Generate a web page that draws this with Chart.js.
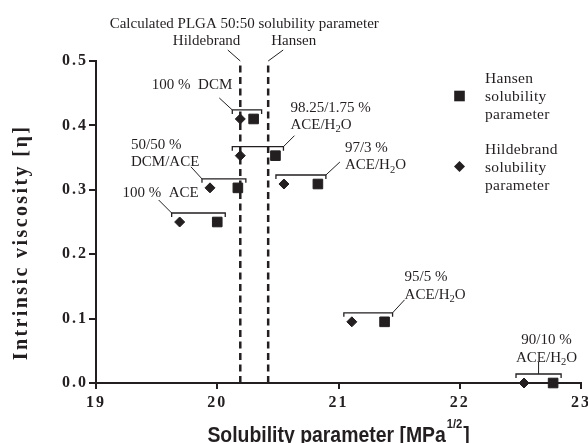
<!DOCTYPE html>
<html>
<head>
<meta charset="utf-8">
<script src="https://cdn.jsdelivr.net/npm/chart.js@4.4.1/dist/chart.umd.min.js"></script>
<style>
  html, body { margin: 0; padding: 0; background: #fff; overflow: hidden; }
  #wrap { width: 600px; height: 443px; }
</style>
</head>
<body>
<div id="wrap"><canvas id="chart" width="600" height="443"></canvas></div>
<script>
// ===== Data =====
const solventLabels = [
  ['100 %  ACE'],
  ['50/50 %', 'DCM/ACE'],
  ['100 %  DCM'],
  ['98.25/1.75 %', 'ACE/H₂O'],
  ['97/3 %', 'ACE/H₂O'],
  ['95/5 %', 'ACE/H₂O'],
  ['90/10 %', 'ACE/H₂O'],
];
const hildebrandValues = [19.69, 19.94, 20.19, 20.19, 20.55, 21.11, 22.53];
const hansenValues     = [20.00, 20.17, 20.30, 20.48, 20.83, 21.38, 22.77];
const viscosityValues  = [0.250, 0.303, 0.410, 0.353, 0.309, 0.095, 0.000];

const plgaNames  = ['Hildebrand', 'Hansen'];
const plgaValues = [20.19, 20.42];

const xTicks = [19, 20, 21, 22, 23];
const yTicks = [0, 0.1, 0.2, 0.3, 0.4, 0.5];

// ===== Style =====
const INK = '#231f20';
const SERIF = '"Liberation Serif", "Times New Roman", serif';
const SANS = '"Liberation Sans", Arial, sans-serif';

// where each solvent label sits, relative to its bracket (pixels)
const LABEL_LAYOUT = [
  { from: 'left',   lead: [-13, -13], align: 'center', tx: 2,   ty: [-3] },
  { from: 'left',   lead: [-11, -12], align: 'left',   tx: -60, ty: [-18, -1] },
  { from: 'left',   lead: [-13, -12], align: 'right',  tx: 13,  ty: [-8.5] },
  { from: 'right',  lead: [11, -11],  align: 'left',   tx: -4,  ty: [-24, -7] },
  { from: 'right',  lead: [14, -13],  align: 'left',   tx: 5,   ty: [-10, 7] },
  { from: 'right',  lead: [12, -13],  align: 'left',   tx: 0,   ty: [-19, -1] },
  { from: 'center', lead: [0, -12],   align: 'center', tx: 8,   ty: [-18, -0.5] },
];

// text with a subscript 2 (H₂O)
function drawRich(ctx, text, x, y, align, size) {
  const parts = text.split('₂');
  const big = `${size}px ${SERIF}`;
  const small = `${size * 0.7}px ${SERIF}`;
  ctx.font = big;
  const widths = parts.map((p) => ctx.measureText(p).width);
  ctx.font = small;
  const sw = ctx.measureText('2').width;
  const total = widths.reduce((a, b) => a + b, 0) + sw * (parts.length - 1);
  let cx = align === 'left' ? x : align === 'right' ? x - total : x - total / 2;
  ctx.textAlign = 'left';
  ctx.textBaseline = 'alphabetic';
  parts.forEach((p, i) => {
    ctx.font = big;
    ctx.fillText(p, cx, y);
    cx += widths[i];
    if (i < parts.length - 1) {
      ctx.font = small;
      ctx.fillText('2', cx, y + 3.5);
      cx += sw;
    }
  });
}

function line(ctx, pts, width) {
  ctx.beginPath();
  ctx.lineWidth = width;
  pts.forEach(([x, y], i) => (i ? ctx.lineTo(x, y) : ctx.moveTo(x, y)));
  ctx.stroke();
}

// ===== Annotation plugin =====
const annotate = {
  id: 'annotate',
  beforeDraw(chart) { chart.ctx.letterSpacing = '2px'; },
  beforeDatasetsDraw(chart) { chart.ctx.letterSpacing = '0px'; },
  afterDraw(chart) {
    const { ctx, chartArea, scales: { x, y } } = chart;
    ctx.save();
    ctx.letterSpacing = '0px';
    ctx.strokeStyle = INK;
    ctx.fillStyle = INK;
    ctx.lineCap = 'butt';

    // brackets + solvent labels
    solventLabels.forEach((lines, i) => {
      const a = x.getPixelForValue(Math.min(hildebrandValues[i], hansenValues[i]));
      const b = x.getPixelForValue(Math.max(hildebrandValues[i], hansenValues[i]));
      const py = y.getPixelForValue(viscosityValues[i]);
      const xl = a - 8, xr = b + 8, yb = py - 9;
      line(ctx, [[xl, yb + 4], [xl, yb], [xr, yb], [xr, yb + 4]], 1.3);

      const L = LABEL_LAYOUT[i];
      const sx = L.from === 'left' ? xl : L.from === 'right' ? xr : (xl + xr) / 2;
      const ex = sx + L.lead[0], ey = yb + L.lead[1];
      line(ctx, [[sx, yb], [ex, ey]], 1);
      lines.forEach((t, k) => drawRich(ctx, t, ex + L.tx, ey + L.ty[k], L.align, 15));
    });

    // PLGA reference line captions
    const hx = x.getPixelForValue(plgaValues[0]);
    const gx = x.getPixelForValue(plgaValues[1]);
    const top = chartArea.top;
    line(ctx, [[hx, top], [hx - 12.5, top - 11]], 1);
    line(ctx, [[gx, top], [gx + 15, top - 11]], 1);
    drawRich(ctx, plgaNames[0], hx, top - 16, 'right', 15);
    drawRich(ctx, plgaNames[1], gx + 3, top - 16, 'left', 15);
    drawRich(ctx, 'Calculated PLGA 50:50 solubility parameter', (hx + gx) / 2 - 10, top - 33.5, 'center', 15);

    // legend
    const lx = 459.5;
    ctx.fillRect(lx - 5.3, 96 - 5.3, 10.6, 10.6);
    ctx.beginPath();
    ctx.moveTo(lx - 5.5, 166.5); ctx.lineTo(lx, 161); ctx.lineTo(lx + 5.5, 166.5); ctx.lineTo(lx, 172);
    ctx.closePath(); ctx.fill();
    ctx.letterSpacing = '0.3px';
    ['Hansen', 'solubility', 'parameter'].forEach((t, k) => drawRich(ctx, t, 485, 96 + 5 + (k - 1) * 18, 'left', 15.5));
    ['Hildebrand', 'solubility', 'parameter'].forEach((t, k) => drawRich(ctx, t, 485, 166.5 + 5 + (k - 1) * 18, 'left', 15.5));

    // y title
    ctx.save();
    ctx.letterSpacing = '2.4px';
    ctx.font = `bold 20px ${SERIF}`;
    ctx.textAlign = 'center';
    ctx.textBaseline = 'alphabetic';
    ctx.translate(27.4, 242.5);
    ctx.rotate(-Math.PI / 2);
    ctx.fillText('Intrinsic viscosity [η]', 0, 0);
    ctx.restore();

    // x title with superscript
    ctx.save();
    ctx.letterSpacing = '0px';
    const sxs = 0.863;
    const main = 'Solubility parameter [MPa';
    ctx.font = `bold 22.5px ${SANS}`;
    const w1 = ctx.measureText(main).width;
    const w3 = ctx.measureText(']').width;
    ctx.font = `bold 13px ${SANS}`;
    const w2 = ctx.measureText('1/2').width;
    const total = (w1 + 1 + w2 + 1 + w3) * sxs;
    ctx.translate((chartArea.left + chartArea.right) / 2 - total / 2, 441.5);
    ctx.scale(sxs, 1);
    ctx.textAlign = 'left';
    ctx.textBaseline = 'alphabetic';
    ctx.font = `bold 22.5px ${SANS}`;
    ctx.fillText(main, 0, 0);
    ctx.fillText(']', w1 + 1 + w2 + 1, 0);
    ctx.font = `bold 13px ${SANS}`;
    ctx.fillText('1/2', w1 + 1, -14);
    ctx.restore();

    ctx.restore();
  },
};

// ===== Chart =====
const tickFont = { family: SERIF, size: 16, weight: 'bold' };

const refLines = plgaValues.map((v) => ({
  type: 'line',
  data: [{ x: v, y: 0 }, { x: v, y: 0.5 }],
  borderColor: INK,
  borderWidth: 2.5,
  borderDash: [7, 4.5],
  pointRadius: 0,
  clip: false,
}));

new Chart(document.getElementById('chart'), {
  type: 'scatter',
  data: {
    datasets: [
      {
        label: 'Hansen solubility parameter',
        data: hansenValues.map((v, i) => ({ x: v, y: viscosityValues[i] })),
        pointStyle: 'rect',
        radius: 6.8,
        borderWidth: 1,
        backgroundColor: INK,
        borderColor: INK,
        clip: false,
      },
      {
        label: 'Hildebrand solubility parameter',
        data: hildebrandValues.map((v, i) => ({ x: v, y: viscosityValues[i] })),
        pointStyle: 'rectRot',
        radius: 5,
        borderWidth: 1,
        backgroundColor: INK,
        borderColor: INK,
        clip: false,
      },
      ...refLines,
    ],
  },
  options: {
    responsive: false,
    animation: false,
    layout: { padding: { top: 61, right: 19, bottom: 0, left: 0 } },
    plugins: { legend: { display: false }, tooltip: { enabled: false } },
    scales: {
      x: {
        type: 'linear',
        min: 19,
        max: 23,
        afterBuildTicks: (s) => { s.ticks = xTicks.map((value) => ({ value })); },
        afterFit: (s) => { s.height = 60; },
        ticks: { font: tickFont, color: INK, padding: 4, callback: (v) => String(v) },
        grid: { drawOnChartArea: false, drawTicks: true, tickLength: 6, tickWidth: 2, tickColor: INK, lineWidth: 2, color: INK },
        border: { display: true, color: INK, width: 2 },
        title: { display: false },
      },
      y: {
        type: 'linear',
        min: 0,
        max: 0.5,
        afterBuildTicks: (s) => { s.ticks = yTicks.map((value) => ({ value })); },
        afterFit: (s) => { s.width = 96; },
        ticks: { font: tickFont, color: INK, padding: 1, callback: (v) => v.toFixed(1) },
        grid: { drawOnChartArea: false, drawTicks: true, tickLength: 7, tickWidth: 2, tickColor: INK, lineWidth: 2, color: INK },
        border: { display: true, color: INK, width: 2 },
        title: { display: false },
      },
    },
  },
  plugins: [annotate],
});
</script>
</body>
</html>
